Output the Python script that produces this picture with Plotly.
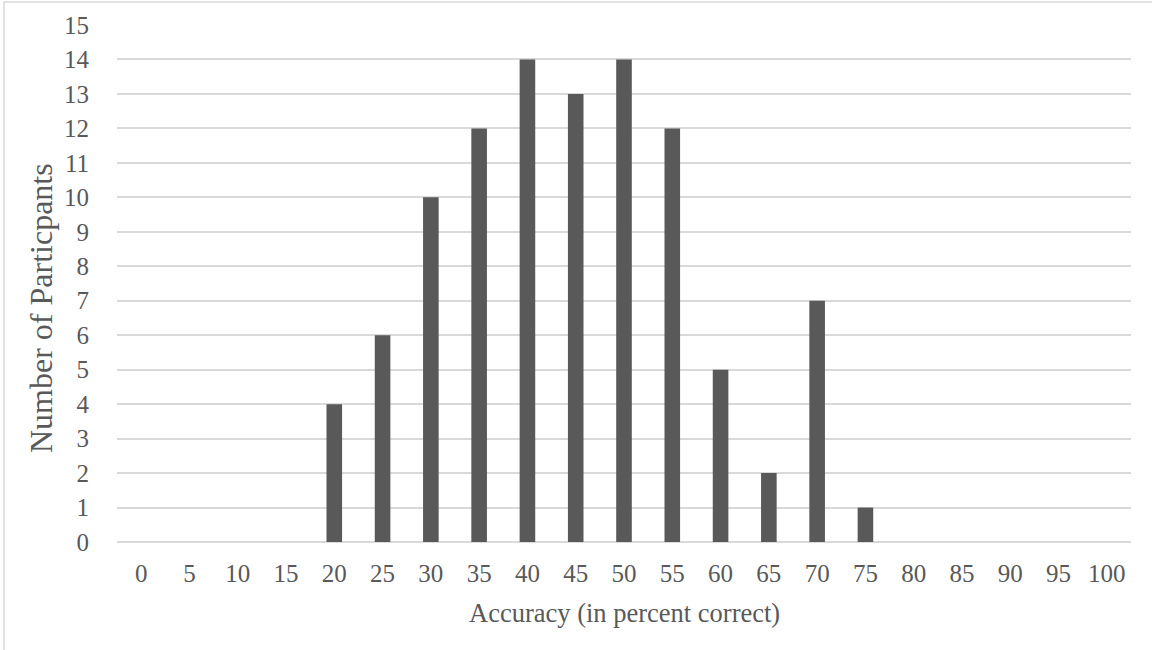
import plotly.graph_objects as go

categories = ["0", "5", "10", "15", "20", "25", "30", "35", "40", "45", "50",
              "55", "60", "65", "70", "75", "80", "85", "90", "95", "100"]
participants = [0, 0, 0, 0, 4, 6, 10, 12, 14, 13, 14, 12, 5, 2, 7, 1, 0, 0, 0, 0, 0]
y_ticks = list(range(0, 16))
x_title = "Accuracy (in percent correct)"
y_title = "Number of Particpants"

W, H = 1152, 650
L, R, T, B = 117, 21, 25, 108
pw, ph = W - L - R, H - T - B

FONT = "Liberation Serif, Times New Roman, serif"
GREY = "#595959"
GRID = "#d9d9d9"


def px_x(p):
    return (p - L) / pw


def px_y(p):
    return (H - B - p) / ph


fig = go.Figure()
fig.add_trace(go.Bar(x=categories, y=participants, marker=dict(color=GREY, line=dict(width=0))))

# outer chart border (only left/top visible in frame)
fig.add_shape(type="rect", xref="paper", yref="paper",
              x0=px_x(4), x1=px_x(W + 10), y0=px_y(H + 10), y1=px_y(2),
              line=dict(color=GRID, width=1.5), layer="below")

fig.add_annotation(text=x_title, xref="paper", yref="paper",
                   x=px_x(624), y=px_y(613), xanchor="center", yanchor="middle",
                   showarrow=False, font=dict(size=26.5, color=GREY, family=FONT))
fig.add_annotation(text=y_title, xref="paper", yref="paper", textangle=-90,
                   x=px_x(41), y=px_y(308), xanchor="center", yanchor="middle",
                   showarrow=False, font=dict(size=32, color=GREY, family=FONT))

fig.update_layout(
    width=W, height=H,
    margin=dict(l=L, r=R, t=T, b=B, pad=0),
    paper_bgcolor="white", plot_bgcolor="white",
    bargap=0.677, showlegend=False,
    font=dict(family=FONT, color=GREY, size=25),
)
fig.update_xaxes(
    type="category", showgrid=False, showline=False, zeroline=False,
    ticks="outside", ticklen=9, tickcolor="rgba(0,0,0,0)",
    tickfont=dict(size=25, color=GREY, family=FONT),
)
fig.update_yaxes(
    range=[0, 15], tickvals=y_ticks, ticktext=[str(v) for v in y_ticks],
    showgrid=True, gridcolor=GRID, gridwidth=1.5,
    zeroline=True, zerolinecolor=GRID, zerolinewidth=1.5, showline=False,
    ticks="outside", ticklen=22, tickcolor="rgba(0,0,0,0)",
    tickfont=dict(size=25, color=GREY, family=FONT),
)

fig.write_html("out.html")
